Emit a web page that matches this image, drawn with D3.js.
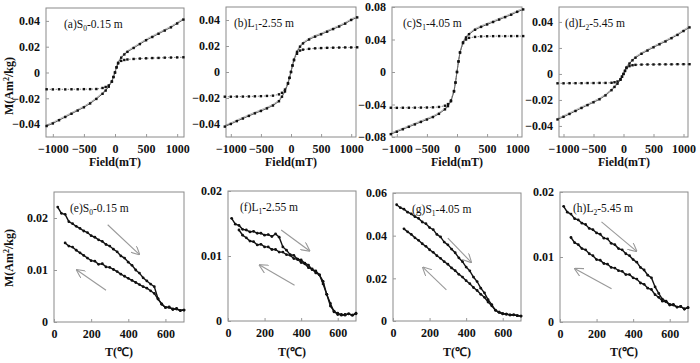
<!DOCTYPE html>
<html>
<head>
<meta charset="utf-8">
<script src="https://cdn.jsdelivr.net/npm/d3@7"></script>
<style>
body { margin: 0; background: #fff; }
svg text { font-family: "Liberation Serif", "Times New Roman", serif; fill: #111; }
</style>
</head>
<body>
<svg width="700" height="363"></svg>
<script>
// ---- hysteresis data (field in mT, M in Am2/kg) ----
var field = [-1100, -1000, -900, -800, -700, -600, -500, -400, -300, -200, -150, -100, -50, -25, 0,
    25, 50, 100, 150, 200, 300, 400, 500, 600, 700, 800, 900, 1000, 1100];

var rawA = [-0.0415, -0.0395, -0.0370, -0.0345, -0.0320, -0.0295, -0.0270, -0.0240, -0.0205, -0.0165, -0.0140, -0.0110, -0.0070, -0.0035, 0,
    0.0040, 0.0075, 0.0115, 0.0140, 0.0160, 0.0190, 0.0220, 0.0250, 0.0275, 0.0300, 0.0325, 0.0350, 0.0380, 0.0410];
var corA = [-0.0130, -0.0131, -0.0130, -0.0131, -0.0130, -0.0130, -0.0129, -0.0129, -0.0128, -0.0120, -0.0112, -0.0100, -0.0070, -0.0035, 0,
    0.0040, 0.0070, 0.0090, 0.0097, 0.0101, 0.0105, 0.0108, 0.0110, 0.0112, 0.0113, 0.0115, 0.0116, 0.0117, 0.0118];

var rawB = [-0.0420, -0.0400, -0.0378, -0.0358, -0.0338, -0.0318, -0.0300, -0.0280, -0.0258, -0.0225, -0.0190, -0.0150, -0.0090, -0.0045, 0,
    0.0050, 0.0095, 0.0155, 0.0195, 0.0220, 0.0250, 0.0272, 0.0290, 0.0310, 0.0330, 0.0350, 0.0372, 0.0400, 0.0420];
var corB = [-0.0190, -0.0190, -0.0189, -0.0189, -0.0188, -0.0187, -0.0186, -0.0184, -0.0182, -0.0172, -0.0160, -0.0135, -0.0085, -0.0045, 0,
    0.0050, 0.0090, 0.0140, 0.0165, 0.0172, 0.0178, 0.0182, 0.0184, 0.0186, 0.0187, 0.0188, 0.0189, 0.0189, 0.0190];

var rawC = [-0.0765, -0.0735, -0.0705, -0.0675, -0.0645, -0.0615, -0.0585, -0.0555, -0.0515, -0.0460, -0.0420, -0.0360, -0.0240, -0.0130, 0,
    0.0130, 0.0240, 0.0365, 0.0425, 0.0465, 0.0520, 0.0555, 0.0585, 0.0615, 0.0645, 0.0675, 0.0705, 0.0740, 0.0770];
var corC = [-0.0440, -0.0441, -0.0440, -0.0440, -0.0439, -0.0438, -0.0437, -0.0435, -0.0430, -0.0415, -0.0395, -0.0350, -0.0235, -0.0130, 0,
    0.0130, 0.0240, 0.0355, 0.0400, 0.0420, 0.0432, 0.0438, 0.0440, 0.0441, 0.0442, 0.0441, 0.0442, 0.0442, 0.0442];

var rawD = [-0.0350, -0.0330, -0.0308, -0.0285, -0.0262, -0.0240, -0.0218, -0.0195, -0.0165, -0.0125, -0.0100, -0.0075, -0.0045, -0.0022, 0,
    0.0025, 0.0050, 0.0080, 0.0105, 0.0125, 0.0155, 0.0180, 0.0205, 0.0228, 0.0250, 0.0275, 0.0300, 0.0330, 0.0358];
var corD = [-0.0072, -0.0072, -0.0071, -0.0071, -0.0071, -0.0070, -0.0070, -0.0069, -0.0069, -0.0068, -0.0064, -0.0058, -0.0040, -0.0020, 0,
    0.0022, 0.0045, 0.0060, 0.0067, 0.0070, 0.0072, 0.0073, 0.0073, 0.0074, 0.0074, 0.0074, 0.0075, 0.0075, 0.0075];

// ---- thermomagnetic data (T in degC, M in Am2/kg) ----
var heatT = [20, 40, 60, 80, 100, 120, 140, 160, 180, 200, 220, 240, 260, 280, 300, 320, 340, 360,
    380, 400, 420, 440, 460, 480, 500, 520, 540, 560, 580, 600, 620, 640, 660, 680, 700];
var coolT = [60, 80, 100, 120, 140, 160, 180, 200, 220, 240, 260, 280, 300, 320, 340, 360,
    380, 400, 420, 440, 460, 480, 500, 520, 540, 560, 580, 600, 620, 640, 660, 680, 700];

var heatE = [0.0221, 0.0209, 0.0207, 0.0193, 0.0189, 0.0184, 0.0180, 0.0175, 0.0172, 0.0166, 0.0163, 0.0158, 0.0155, 0.0149, 0.0146, 0.0140, 0.0135, 0.0127,
    0.0123, 0.0115, 0.0109, 0.0100, 0.0094, 0.0085, 0.0079, 0.0073, 0.0068, 0.0045, 0.0034, 0.0028, 0.0029, 0.0024, 0.0026, 0.0022, 0.0023];
var coolE = [0.0152, 0.0146, 0.0144, 0.0138, 0.0133, 0.0128, 0.0123, 0.0118, 0.0117, 0.0111, 0.0112, 0.0106, 0.0105, 0.0101, 0.0097, 0.0092,
    0.0088, 0.0084, 0.0080, 0.0076, 0.0072, 0.0068, 0.0065, 0.0060, 0.0055, 0.0044, 0.0035, 0.0028, 0.0028, 0.0025, 0.0025, 0.0022, 0.0023];

var heatF = [0.0158, 0.0149, 0.0147, 0.0141, 0.0140, 0.0137, 0.0138, 0.0135, 0.0135, 0.0132, 0.0133, 0.0130, 0.0134, 0.0129, 0.0114, 0.0109, 0.0102, 0.0101,
    0.0095, 0.0094, 0.0089, 0.0086, 0.0079, 0.0077, 0.0071, 0.0061, 0.0041, 0.0027, 0.0014, 0.0012, 0.0009, 0.0010, 0.0011, 0.0009, 0.0012];
var coolF = [0.0140, 0.0132, 0.0128, 0.0123, 0.0122, 0.0117, 0.0118, 0.0114, 0.0114, 0.0110, 0.0110, 0.0106, 0.0106, 0.0102, 0.0101, 0.0096,
    0.0095, 0.0090, 0.0088, 0.0082, 0.0080, 0.0074, 0.0071, 0.0057, 0.0041, 0.0023, 0.0015, 0.0010, 0.0010, 0.0009, 0.0011, 0.0009, 0.0011];

var heatG = [0.0545, 0.0531, 0.0524, 0.0510, 0.0502, 0.0489, 0.0481, 0.0464, 0.0456, 0.0438, 0.0428, 0.0406, 0.0394, 0.0370, 0.0357, 0.0337, 0.0320, 0.0296,
    0.0278, 0.0253, 0.0235, 0.0206, 0.0185, 0.0154, 0.0132, 0.0100, 0.0077, 0.0050, 0.0041, 0.0034, 0.0032, 0.0029, 0.0029, 0.0025, 0.0023];
var coolG = [0.0432, 0.0418, 0.0406, 0.0390, 0.0378, 0.0362, 0.0350, 0.0334, 0.0322, 0.0306, 0.0294, 0.0278, 0.0266, 0.0249, 0.0236, 0.0219,
    0.0206, 0.0189, 0.0175, 0.0157, 0.0143, 0.0125, 0.0111, 0.0089, 0.0071, 0.0051, 0.0041, 0.0034, 0.0032, 0.0028, 0.0029, 0.0025, 0.0023];

var heatH = [0.0178, 0.0169, 0.0166, 0.0159, 0.0157, 0.0152, 0.0150, 0.0144, 0.0142, 0.0137, 0.0135, 0.0129, 0.0128, 0.0121, 0.0119, 0.0113, 0.0111, 0.0105,
    0.0102, 0.0096, 0.0092, 0.0084, 0.0080, 0.0072, 0.0068, 0.0054, 0.0044, 0.0035, 0.0032, 0.0027, 0.0027, 0.0023, 0.0024, 0.0020, 0.0022];
var coolH = [0.0130, 0.0122, 0.0119, 0.0113, 0.0111, 0.0105, 0.0102, 0.0096, 0.0095, 0.0090, 0.0089, 0.0084, 0.0083, 0.0079, 0.0078, 0.0073,
    0.0073, 0.0068, 0.0066, 0.0060, 0.0058, 0.0052, 0.0050, 0.0042, 0.0038, 0.0032, 0.0031, 0.0026, 0.0026, 0.0023, 0.0024, 0.0020, 0.0022];

// arrows [T0, M0, T1, M1]
var arrowsE = [[289, 0.0187, 459, 0.0130], [280, 0.0061, 123, 0.0100]];
var arrowsF = [[291, 0.0140, 445, 0.0108], [364, 0.0055, 173, 0.0086]];
var arrowsG = [[300, 0.0388, 427, 0.0276], [292, 0.0146, 164, 0.0251]];
var arrowsH = [[227, 0.0154, 418, 0.0109], [282, 0.0051, 82, 0.0082]];

var fieldTicks = [-1000, -500, 0, 500, 1000];
var tempTicks = [0, 200, 400, 600];

var svg = d3.select('svg');
var defs = svg.append('defs');
defs.append('marker')
    .attr('id', 'head')
    .attr('viewBox', '0 0 10 10')
    .attr('refX', 9).attr('refY', 5)
    .attr('markerWidth', 9).attr('markerHeight', 9)
    .attr('markerUnits', 'userSpaceOnUse')
    .attr('orient', 'auto')
    .append('path')
    .attr('d', 'M0,0 L10,5 L0,10')
    .attr('fill', 'none')
    .attr('stroke', '#999')
    .attr('stroke-width', 1.2);

var topPanels = [
    {box: [46, 8, 138, 129], xd: [-1110, 1110], yd: [-0.05, 0.05], yt: [-0.04, -0.02, 0, 0.02, 0.04],
     raw: rawA, cor: corA, tag: '(a)S', sub: '0', rest: '-0.15 m', lx: 18},
    {box: [226, 7, 130, 130], xd: [-1080, 1080], yd: [-0.05, 0.05], yt: [-0.04, -0.02, 0, 0.02, 0.04],
     raw: rawB, cor: corB, tag: '(b)L', sub: '1', rest: '-2.55 m', lx: 8},
    {box: [392, 7, 130, 130], xd: [-1080, 1080], yd: [-0.08, 0.08], yt: [-0.08, -0.04, 0, 0.04, 0.08],
     raw: rawC, cor: corC, tag: '(c)S', sub: '1', rest: '-4.05 m', lx: 11},
    {box: [559, 7, 129, 130], xd: [-1075, 1075], yd: [-0.0485, 0.0515], yt: [-0.04, -0.02, 0, 0.02, 0.04],
     raw: rawD, cor: corD, tag: '(d)L', sub: '2', rest: '-5.45 m', lx: 6}
];

var botPanels = [
    {box: [54, 192, 130, 130], yd: [0, 0.025], yt: [0, 0.01, 0.02], heat: heatE, cool: coolE, arrows: arrowsE,
     tag: '(e)S', sub: '0', rest: '-0.15 m', lx: 16},
    {box: [228, 191, 128, 130], yd: [0, 0.02], yt: [0, 0.01, 0.02], heat: heatF, cool: coolF, arrows: arrowsF,
     tag: '(f)L', sub: '1', rest: '-2.55 m', lx: 12},
    {box: [393, 193, 128, 128], yd: [0, 0.06], yt: [0, 0.02, 0.04, 0.06], heat: heatG, cool: coolG, arrows: arrowsG,
     tag: '(g)S', sub: '1', rest: '-4.05 m', lx: 19},
    {box: [560, 192, 128, 130], yd: [0, 0.02], yt: [0, 0.01, 0.02], heat: heatH, cool: coolH, arrows: arrowsH,
     tag: '(h)L', sub: '2', rest: '-5.45 m', lx: 13}
];

function fmtM(d) {
    if (d === 0) return '0';
    return (d < 0 ? '\u2212' : '') + d3.format('.2f')(Math.abs(d));
}
function fmtT(d) {
    return (d < 0 ? '\u2212' : '') + Math.abs(d);
}

function drawFrame(p, x, y, xticks, xfmt) {
    var g = svg.append('g').attr('transform', 'translate(' + [p.box[0], p.box[1]] + ')');
    g.append('rect')
        .attr('width', p.box[2]).attr('height', p.box[3])
        .attr('fill', 'none').attr('stroke', '#8a8a8a').attr('stroke-width', 1);

    var xa = g.append('g').attr('transform', 'translate(0,' + p.box[3] + ')')
        .call(d3.axisBottom(x).tickValues(xticks).tickFormat(xfmt).tickSizeInner(-3).tickSizeOuter(0).tickPadding(7));
    var ya = g.append('g')
        .call(d3.axisLeft(y).tickValues(p.yt).tickFormat(fmtM).tickSizeInner(-3).tickSizeOuter(0).tickPadding(6));
    [xa, ya].forEach(function(a) {
        a.select('.domain').remove();
        a.selectAll('line').attr('stroke', '#999');
        a.selectAll('text').attr('font-family', '"Liberation Serif", serif')
            .attr('font-size', 12).attr('font-weight', 'bold').attr('fill', '#222');
    });

    var t = g.append('text').attr('x', p.lx).attr('y', 20).attr('font-size', 11.5);
    t.append('tspan').text(p.tag);
    t.append('tspan').attr('font-size', 7.5).attr('dy', 3).text(p.sub);
    t.append('tspan').attr('dy', -3).text(p.rest);
    return g;
}

// top row: hysteresis loops
topPanels.forEach(function(p) {
    var x = d3.scaleLinear().domain(p.xd).range([0, p.box[2]]);
    var y = d3.scaleLinear().domain(p.yd).range([p.box[3], 0]);
    var g = drawFrame(p, x, y, fieldTicks, fmtT);
    var line = d3.line().x(function(d) { return x(d[0]); }).y(function(d) { return y(d[1]); });

    var raw = d3.zip(field, p.raw);
    var cor = d3.zip(field, p.cor);
    g.append('path').attr('d', line(raw)).attr('fill', 'none').attr('stroke', '#444').attr('stroke-width', 0.9);
    g.append('path').attr('d', line(raw)).attr('transform', 'translate(0,-1.2)')
        .attr('fill', 'none').attr('stroke', '#888').attr('stroke-width', 0.6);
    g.append('path').attr('d', line(cor)).attr('fill', 'none').attr('stroke', '#666')
        .attr('stroke-width', 0.8).attr('stroke-dasharray', '1.5,1.5');

    [raw, cor].forEach(function(s) {
        g.selectAll(null).data(s).enter().append('rect')
            .attr('x', function(d) { return x(d[0]) - 1.2; })
            .attr('y', function(d) { return y(d[1]) - 1.2; })
            .attr('width', 2.4).attr('height', 2.4)
            .attr('fill', '#111');
    });
});

// bottom row: thermomagnetic curves
botPanels.forEach(function(p) {
    var x = d3.scaleLinear().domain([0, 700]).range([0, p.box[2]]);
    var y = d3.scaleLinear().domain(p.yd).range([p.box[3], 0]);
    var g = drawFrame(p, x, y, tempTicks, fmtT);
    var line = d3.line().x(function(d) { return x(d[0]); }).y(function(d) { return y(d[1]); });

    [d3.zip(heatT, p.heat), d3.zip(coolT, p.cool)].forEach(function(s) {
        g.append('path').attr('d', line(s)).attr('fill', 'none')
            .attr('stroke', '#111').attr('stroke-width', 1.4);
        g.selectAll(null).data(s).enter().append('circle')
            .attr('cx', function(d) { return x(d[0]); })
            .attr('cy', function(d) { return y(d[1]); })
            .attr('r', 1.4).attr('fill', '#111');
    });

    p.arrows.forEach(function(a) {
        g.append('line')
            .attr('x1', x(a[0])).attr('y1', y(a[1]))
            .attr('x2', x(a[2])).attr('y2', y(a[3]))
            .attr('stroke', '#999').attr('stroke-width', 1.1)
            .attr('marker-end', 'url(#head)');
    });
});

// axis titles
function label(cx, cy, rot) {
    return svg.append('text')
        .attr('transform', 'translate(' + [cx, cy] + ')' + (rot ? ' rotate(-90)' : ''))
        .attr('text-anchor', 'middle').attr('font-size', 12).attr('font-weight', 'bold');
}
[[115, 166], [291, 166], [457, 166], [624, 166]].forEach(function(c) {
    label(c[0], c[1]).text('Field(mT)');
});
[[119, 356], [292, 356], [457, 356], [624, 356]].forEach(function(c) {
    label(c[0], c[1]).text('T(\u2103)');
});
[[13, 86], [13, 258]].forEach(function(c) {
    var t = label(c[0], c[1], true);
    t.append('tspan').text('M(Am');
    t.append('tspan').attr('font-size', 8).attr('dy', -4).text('2');
    t.append('tspan').attr('dy', 4).text('/kg)');
});
</script>
</body>
</html>
